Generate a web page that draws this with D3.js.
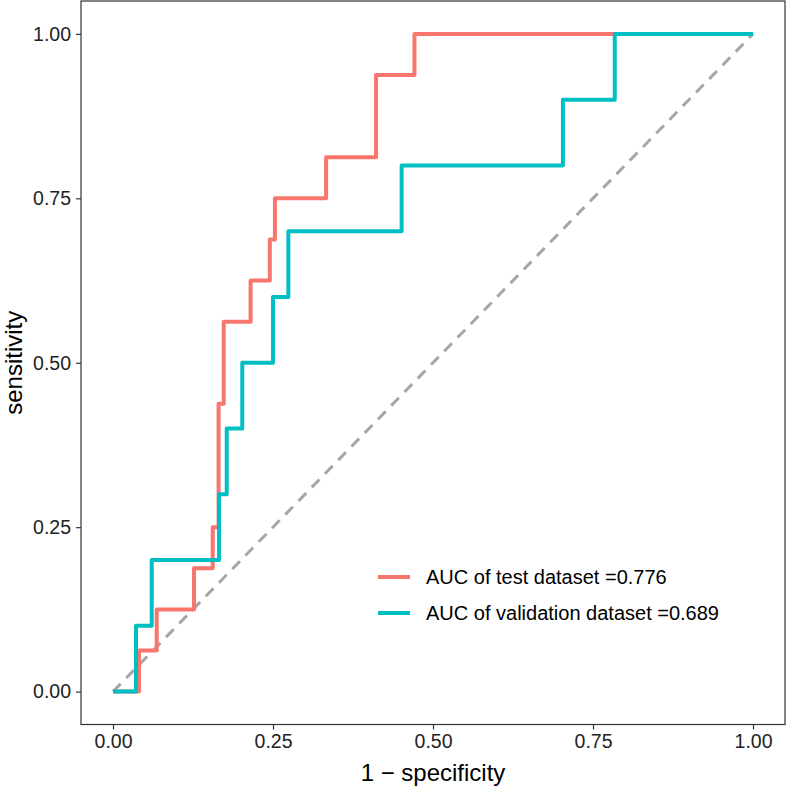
<!DOCTYPE html>
<html>
<head>
<meta charset="utf-8">
<script src="https://cdn.jsdelivr.net/npm/d3@7"></script>
<style>
html,body{margin:0;padding:0;background:#fff;}
svg{display:block;font-family:"Liberation Sans",Arial,Helvetica,sans-serif;}
</style>
</head>
<body>
<svg id="chart" width="786" height="786"></svg>
<script>
// ROC vertices (1 - specificity, sensitivity)
const testFpr = [0, 0.0406, 0.0683, 0.1266, 0.1558, 0.165, 0.173, 0.215, 0.245, 0.253, 0.333, 0.411, 0.471, 1];
const testTpr = [0, 0.0625, 0.125, 0.1875, 0.25, 0.4375, 0.5625, 0.625, 0.6875, 0.75, 0.8125, 0.9375, 1, 1];
const valFpr = [0, 0.0359, 0.0605, 0.1656, 0.1777, 0.202, 0.25, 0.274, 0.451, 0.703, 0.784, 1];
const valTpr = [0, 0.1, 0.2, 0.3, 0.4, 0.5, 0.6, 0.7, 0.8, 0.9, 1, 1];
const seriesNames = ["AUC of test dataset =0.776", "AUC of validation dataset =0.689"];
const seriesColors = ["#F8766D", "#00BFC4"];
const tickValues = [0, 0.25, 0.5, 0.75, 1];
const tickLabels = ["0.00", "0.25", "0.50", "0.75", "1.00"];
const xTitle = "1 \u2212 specificity";
const yTitle = "sensitivity";

const svg = d3.select("#chart");
const panel = {left: 81, right: 785, top: 1, bottom: 724.5};

const x = d3.scaleLinear().domain([-0.05, 1.05]).range([panel.left, panel.right]);
const y = d3.scaleLinear().domain([-0.05, 1.05]).range([panel.bottom, panel.top]);

svg.append("rect").attr("width", 786).attr("height", 786).attr("fill", "#fff");

// diagonal reference line
svg.append("line")
  .attr("x1", x(0)).attr("y1", y(0)).attr("x2", x(1)).attr("y2", y(1))
  .attr("stroke", "#A6A6A6").attr("stroke-width", 3)
  .attr("stroke-dasharray", "11,8");

const series = [
  testFpr.map((d, i) => ({fpr: d, tpr: testTpr[i]})),
  valFpr.map((d, i) => ({fpr: d, tpr: valTpr[i]}))
];

const line = d3.line().x(d => x(d.fpr)).y(d => y(d.tpr)).curve(d3.curveStepAfter);

series.forEach((s, i) => {
  svg.append("path")
    .datum(s)
    .attr("d", line)
    .attr("fill", "none")
    .attr("stroke", seriesColors[i])
    .attr("stroke-width", 4)
    .attr("stroke-linejoin", "round");
});

// panel border
svg.append("rect")
  .attr("x", panel.left).attr("y", panel.top)
  .attr("width", panel.right - panel.left).attr("height", panel.bottom - panel.top)
  .attr("fill", "none").attr("stroke", "#333").attr("stroke-width", 1.2);

// axes
const xAxis = d3.axisBottom(x).tickValues(tickValues).tickSize(5).tickPadding(5)
  .tickFormat((d, i) => tickLabels[i]);
const yAxis = d3.axisLeft(y).tickValues(tickValues).tickSize(5).tickPadding(5)
  .tickFormat((d, i) => tickLabels[i]);

const gx = svg.append("g").attr("transform", `translate(0,${panel.bottom})`).call(xAxis);
const gy = svg.append("g").attr("transform", `translate(${panel.left},0)`).call(yAxis);
[gx, gy].forEach(g => {
  g.select(".domain").remove();
  g.selectAll(".tick line").attr("stroke", "#333").attr("stroke-width", 1.2);
  g.selectAll(".tick text").attr("fill", "#222").style("font-size", "19.5px")
    .style("font-family", "'Liberation Sans', Arial, sans-serif");
});

// axis titles
svg.append("text")
  .attr("x", (panel.left + panel.right) / 2).attr("y", 781)
  .attr("text-anchor", "middle").attr("fill", "#000")
  .style("font-size", "24px").text(xTitle);
svg.append("text")
  .attr("transform", `translate(22,${(panel.top + panel.bottom) / 2}) rotate(-90)`)
  .attr("text-anchor", "middle").attr("fill", "#000")
  .style("font-size", "24px").text(yTitle);

// legend
const legend = svg.append("g");
seriesNames.forEach((name, i) => {
  const cy = 577 + i * 36;
  legend.append("line")
    .attr("x1", 378).attr("x2", 410).attr("y1", cy).attr("y2", cy)
    .attr("stroke", seriesColors[i]).attr("stroke-width", 4);
  legend.append("text")
    .attr("x", 426).attr("y", cy + 7)
    .attr("fill", "#000").style("font-size", "20px").text(name);
});
</script>
</body>
</html>
